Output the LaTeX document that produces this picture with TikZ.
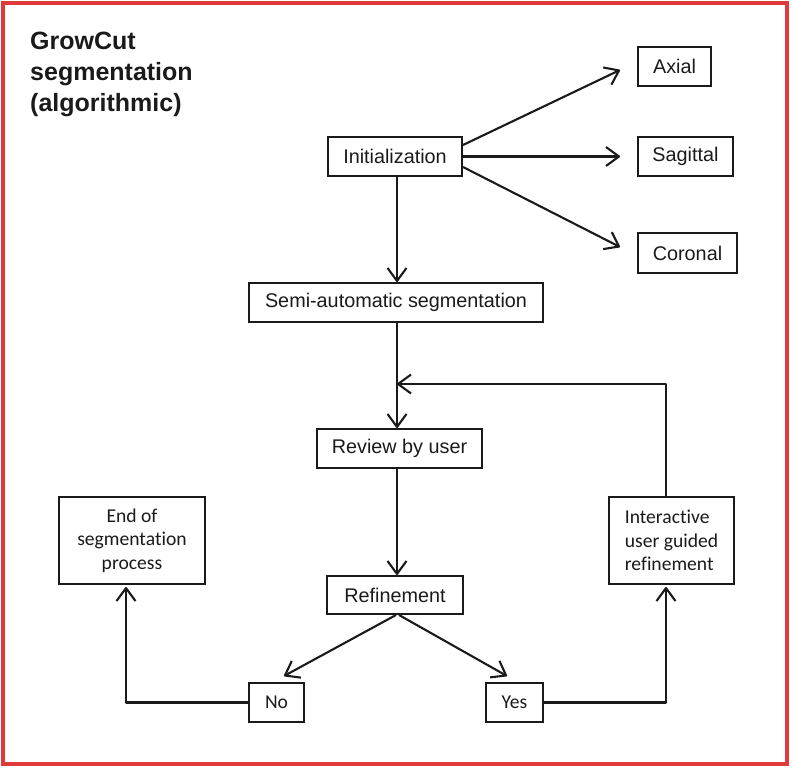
\documentclass[tikz,border=0pt]{standalone}
\usepackage{fontspec}
\setmainfont{Liberation Sans}
\newfontfamily\calib[Ligatures={NoCommon}]{Carlito}
\usetikzlibrary{arrows.meta,calc}
\definecolor{bord}{HTML}{E03A3A}
\definecolor{ink}{HTML}{1A1A1A}
\tikzset{
  box/.style={draw=ink, line width=2pt, inner sep=0pt, align=center, text=ink,
    font=\fontsize{19.8}{23}\selectfont},
  cbox/.style={box, font=\calib\fontsize{19.6}{23.5}\selectfont},
  arr/.style={draw=ink, line width=2.1pt, line join=round,
    -{Straight Barb[length=13pt,width=19pt,line join=round]}}
}
\begin{document}
\begin{tikzpicture}[x=1pt,y=-1pt]
\useasboundingbox (0,0) rectangle (792,770);
\draw[bord, line width=4pt] (3,3) rectangle (787,764);

\node[anchor=base west, align=left, text=ink, inner sep=0pt,
  font=\fontsize{25}{31}\selectfont\bfseries] (title) at (30,112)
  {GrowCut\\segmentation\\(algorithmic)};

\node[box, minimum width=134pt, minimum height=39pt] (init) at (395,156.5) {Initialization};
\node[box, minimum width=73pt, minimum height=39pt] (axial) at (674.5,66.5) {Axial};
\node[box, minimum width=95pt, minimum height=39pt] (sag) at (685.5,156.5) {Sagittal};
\node[box, minimum width=99pt, minimum height=40pt] (cor) at (687.5,253) {Coronal};
\node[box, minimum width=294pt, minimum height=39pt] (semi) at (396,302.5) {Semi-automatic segmentation};
\node[box, minimum width=165pt, minimum height=39pt] (rev) at (399.5,448.5) {Review by user};
\node[box, minimum width=136pt, minimum height=38pt] (ref) at (395,595) {Refinement};
\node[cbox, minimum width=55pt, minimum height=39pt] (no) at (276.5,702.5) {No};
\node[cbox, minimum width=57pt, minimum height=39pt] (yes) at (514.5,702.5) {Yes};
\node[cbox, minimum width=146pt, minimum height=87pt] (end) at (132,540.5) {End of\\segmentation\\process};
\node[cbox, minimum width=125pt, minimum height=87pt, align=left] (inter) at (671.5,540.5) {Interactive\\user guided\\refinement};

\coordinate (tA) at (620,70);
\coordinate (tS) at (620,156.5);
\coordinate (tC) at (620,247);
\coordinate (merge) at (397,384);
\coordinate (tNo) at (284,676);
\coordinate (tYes) at (507,676);

\draw[arr] ([yshift=11.5pt]init.east) -- (tA);
\draw[arr] (init.east) -- (tS);
\draw[arr] ([yshift=-10.5pt]init.east) -- (tC);
\draw[arr] (init.south -| merge) -- (semi.north -| merge);
\draw[arr] (semi.south -| merge) -- (rev.north -| merge);
\draw[arr] ([xshift=-5.5pt]inter.north) |- (merge);
\draw[arr] (rev.south -| merge) -- (ref.north -| merge);
\draw[arr] ([xshift=1pt]ref.south) -- (tNo);
\draw[arr] ([xshift=4pt]ref.south) -- (tYes);
\draw[arr] (no.west) -| ([xshift=-6pt,yshift=-2pt]end.south);
\draw[arr] (yes.east) -| ([xshift=-5.5pt,yshift=-2pt]inter.south);
\end{tikzpicture}
\end{document}
